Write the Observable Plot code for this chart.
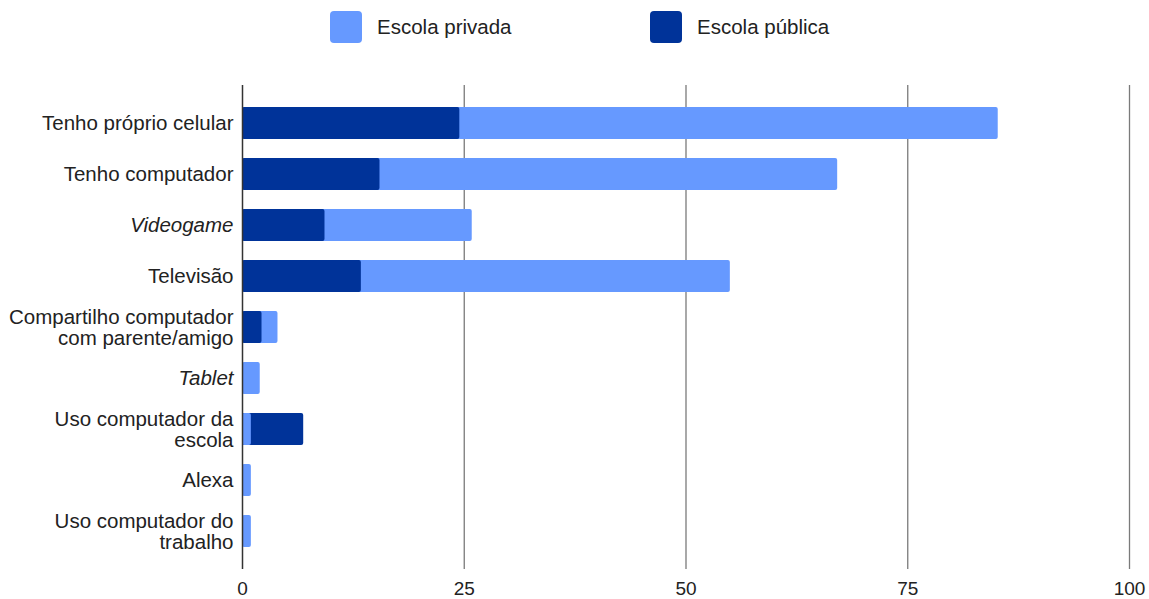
<!DOCTYPE html>
<html>
<head>
<meta charset="utf-8">
<script src="https://cdn.jsdelivr.net/npm/d3@7"></script>
<script src="https://cdn.jsdelivr.net/npm/@observablehq/plot@0.6"></script>
<style>
  html, body { margin: 0; padding: 0; background: #fff; }
  body { width: 1149px; height: 599px; position: relative; overflow: hidden; font-family: "Liberation Sans", Arial, sans-serif; }
  #legend { position: absolute; top: 11px; left: 0; width: 1149px; height: 33px; }
  .item { position: absolute; top: 0; display: flex; align-items: center; font-size: 20.5px; color: #222; }
  .sw { width: 32px; height: 32px; border-radius: 4px; margin-right: 15px; }
  #chart { position: absolute; top: 0; left: 0; }
</style>
</head>
<body>
<div id="legend">
  <div class="item" style="left:330px"><div class="sw" style="background:#6699FF"></div><span>Escola privada</span></div>
  <div class="item" style="left:650px"><div class="sw" style="background:#003399"></div><span>Escola pública</span></div>
</div>
<div id="chart"></div>
<script>
const categories = [
  "Tenho próprio celular",
  "Tenho computador",
  "Videogame",
  "Televisão",
  "Compartilho computador\ncom parente/amigo",
  "Tablet",
  "Uso computador da\nescola",
  "Alexa",
  "Uso computador do\ntrabalho"
];
const italicCategories = ["Videogame", "Tablet"];
const privada = [85.2, 67.1, 25.9, 55.0, 4.0, 2.0, 1.0, 1.0, 1.0];
const publica = [24.5, 15.5, 9.3, 13.4, 2.2, 0, 6.9, 0, 0];
const seriesNames = ["Escola privada", "Escola pública"];
const xTicks = [0, 25, 50, 75, 100];
const colors = ["#6699FF", "#003399"];

// long table; larger value drawn first (behind), smaller on top (overlapping bars)
const rows = [];
categories.forEach((c, i) => {
  const pair = [
    {category: c, series: seriesNames[0], value: privada[i]},
    {category: c, series: seriesNames[1], value: publica[i]}
  ].filter(d => d.value > 0).sort((a, b) => b.value - a.value);
  rows.push(...pair);
});

const chart = Plot.plot({
  width: 1149,
  height: 599,
  marginTop: 85,
  marginBottom: 30,
  marginLeft: 242,
  marginRight: 20,
  style: {fontFamily: "'Liberation Sans', Arial, sans-serif", fontSize: "20px", color: "#222", background: "transparent"},
  x: {domain: [0, 100], ticks: xTicks},
  y: {domain: categories, padding: 0.38},
  color: {domain: seriesNames, range: colors},
  marks: [
    Plot.gridX(xTicks.filter(t => t > 0), {stroke: "#7a7a7a", strokeOpacity: 1, strokeWidth: 1.3}),
    Plot.axisX({ticks: xTicks, tickSize: 0, tickPadding: 12, fontSize: 19, fill: "#222", label: null}),
    Plot.barX(rows, {x1: () => 0, x2: "value", y: "category", fill: "series", rx: 2}),
    Plot.ruleX([0], {stroke: "#333", strokeWidth: 1.5}),
    Plot.text(categories.filter(c => !italicCategories.includes(c)), {
      x: () => 0, y: d => d, text: d => d, textAnchor: "end", dx: -9,
      fontSize: 20.5, fill: "#222", lineHeight: 1.05
    }),
    Plot.text(categories.filter(c => italicCategories.includes(c)), {
      x: () => 0, y: d => d, text: d => d, textAnchor: "end", dx: -9,
      fontSize: 20.5, fill: "#222", fontStyle: "italic"
    })
  ],
  axis: null
});
document.getElementById("chart").appendChild(chart);
</script>
</body>
</html>
